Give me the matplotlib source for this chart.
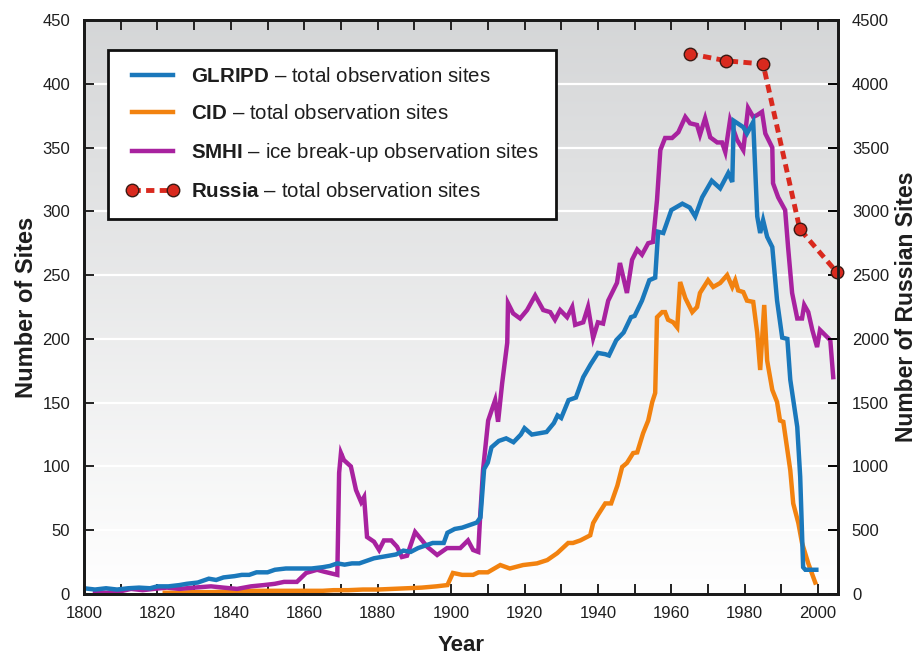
import numpy as np
import matplotlib
matplotlib.use("Agg")
import matplotlib.pyplot as plt

FONT = 'Liberation Sans'
plt.rcParams['font.family'] = [FONT, 'DejaVu Sans']
plt.rcParams['mathtext.fontset'] = 'custom'
plt.rcParams['mathtext.bf'] = FONT + ':bold'
plt.rcParams['mathtext.rm'] = FONT

# ---------------- data ----------------
glripd_years = [1800, 1803, 1806, 1809, 1812, 1815, 1818, 1820, 1823, 1826, 1828, 1831, 1834, 1836, 1838,
                1841, 1843, 1845, 1847, 1850, 1852, 1855, 1859, 1862, 1865, 1867, 1869, 1871, 1873, 1875,
                1877, 1879, 1881, 1883, 1885, 1887, 1889, 1891, 1893, 1895, 1897, 1898, 1899, 1901, 1903,
                1905, 1907, 1908, 1909, 1910, 1911, 1913, 1915, 1917, 1919, 1920, 1922, 1924, 1926, 1928,
                1929, 1930, 1932, 1934, 1936, 1938, 1940, 1942, 1943, 1945, 1947, 1949, 1950, 1952, 1954,
                1955.6, 1956.4, 1957.8, 1960, 1963, 1965, 1966.5, 1968.4, 1971, 1973.3, 1975.5, 1976.6,
                1977, 1979.6, 1980.6, 1982.3, 1983.4, 1984.2, 1985, 1986.1, 1987.5, 1988.8, 1990.2,
                1991.6, 1992.4, 1994.3, 1995.1, 1995.9, 1996.5, 1999.5]
glripd_sites = [4.5, 3.5, 4.5, 3.5, 4.5, 5, 4.5, 6, 6, 7, 8, 9, 12, 11, 13,
                14, 15, 15, 17, 17, 19, 20, 20, 20, 21, 22, 24, 23, 24, 24,
                26, 28, 29, 30, 31, 34, 33, 36, 38, 40, 40, 40, 48, 51, 52,
                54, 56, 60, 98, 103, 115, 120, 122, 119, 125, 130, 125, 126, 127, 134,
                140, 138, 152, 154, 170, 180, 189, 188, 187, 199, 205, 217, 218, 230, 246,
                248, 284, 283, 301, 306, 303, 296, 311, 324, 318, 330, 323,
                371, 366, 361, 370, 296, 283, 293, 280, 272, 230, 201,
                200, 168, 131, 92, 21, 19, 19]

cid_years = [1822, 1826, 1830, 1835, 1840, 1845, 1850, 1855, 1860, 1865, 1868, 1872, 1876, 1880, 1884,
             1888, 1892, 1896, 1899, 1900.5, 1903, 1906, 1907.5, 1910, 1913.4, 1916, 1919.6, 1923.4,
             1926.2, 1928.9, 1931.9, 1933.2, 1935.2, 1937.9, 1938.7, 1940, 1942, 1943.6, 1945.3,
             1946.6, 1947.9, 1949.6, 1950.7, 1952.3, 1953.7, 1954.8, 1955.6, 1956.1, 1957.5, 1958.3,
             1959.1, 1960.5, 1961.6, 1962.4, 1963.8, 1965.7, 1967, 1967.8, 1970, 1971.4, 1973.3,
             1975.2, 1976.6, 1977.4, 1978.2, 1979.6, 1980.6, 1982.3, 1983.4, 1984.2, 1985.3, 1986.1,
             1987.5, 1988.8, 1989.6, 1990.5, 1991.6, 1992.4, 1993.2, 1994.6, 1995.6, 1997.3, 1999.2]
cid_sites = [1, 1, 1.5, 1.5, 2, 2.5, 2.5, 2.5, 2.5, 2.5, 3, 3, 3.5, 3.5, 4,
             4.5, 5, 6, 7, 16.5, 15, 15, 17, 17, 22.7, 20, 22.7, 24,
             26.6, 32, 40, 40, 42, 46, 55.6, 62, 71, 71, 85,
             99.6, 102.7, 110.5, 111, 126, 136, 150.5, 157.6, 217, 221, 221,
             215, 213, 209, 244.6, 232, 221, 225, 236, 246, 240.7, 243.8,
             250, 240.7, 246, 238, 236.7, 230, 229, 204.6, 175.6, 226.6, 183,
             160, 150.5, 136, 135, 113, 97, 71, 55.6, 40, 24, 9]

smhi_years = [1803, 1806, 1809, 1812.8, 1816, 1819, 1822.6, 1826, 1830, 1834.6, 1838, 1841.7, 1845.5,
              1849, 1852, 1854.5, 1858, 1860.5, 1863.5, 1865.4, 1869, 1869.5, 1870, 1870.8, 1872.7,
              1874.1, 1875.5, 1876.3, 1877.1, 1879, 1880.4, 1881.7, 1883.7, 1885.3, 1886.6, 1888,
              1890.2, 1892.1, 1893.5, 1896.2, 1898.9, 1902.5, 1904.6, 1906, 1907.4, 1907.9, 1908.7,
              1910.1, 1912, 1912.8, 1913.9, 1915.3, 1915.5, 1916.9, 1918.8, 1920.7, 1922.9, 1925.1,
              1927, 1928.3, 1929.7, 1931.6, 1933, 1933.8, 1936, 1937.3, 1938.7, 1940, 1941.4, 1942.8,
              1945.2, 1946, 1947.9, 1949.3, 1950.7, 1952, 1953.7, 1955, 1956.1, 1957, 1958.3, 1960.2,
              1961.9, 1963.8, 1965.1, 1967, 1967.8, 1969.2, 1970.6, 1972.5, 1973.8, 1974.7, 1976,
              1977.9, 1979.6, 1980.9, 1982.3, 1983.4, 1984.7, 1985.6, 1987.5, 1987.7, 1989.1, 1991,
              1991.8, 1992.9, 1994.3, 1995.6, 1996.2, 1997.3, 1998.4, 1999.7, 2000.5, 2002.7, 2003.3,
              2004.1]
smhi_sites = [1.5, 1, 1.5, 4, 3, 4, 5, 4, 5, 6, 5, 4, 6,
              7, 8, 9.5, 9.5, 16.5, 19, 17.5, 15, 95, 110.5, 105, 100,
              81.5, 72, 76, 44.7, 41, 34.5, 42, 42, 37, 29, 30,
              48.6, 42, 37, 30.6, 36, 36, 42, 34.5, 33, 60, 97,
              136, 152, 135, 165, 197, 228, 220, 216, 222.6, 234, 222.6,
              221, 215, 222.6, 217, 225, 211, 213, 225, 200.7, 213, 212, 230,
              244, 259.5, 236, 262, 270, 266, 275, 276, 309, 348, 357.5, 357.5,
              362, 374, 369, 367.7, 360, 373, 358, 354, 354, 346.5, 371.6,
              356, 348, 381, 374, 375.5, 378, 361, 350, 322, 311, 301,
              272, 236, 216, 216, 226.6, 221, 207, 193.6, 207, 200.7, 199,
              170]

russia_years = [1965, 1975, 1985, 1995, 2005]
russia_sites = [4235, 4180, 4155, 2860, 2525]

x_ticks = [1800, 1820, 1840, 1860, 1880, 1900, 1920, 1940, 1960, 1980, 2000]
y_ticks = [0, 50, 100, 150, 200, 250, 300, 350, 400, 450]
y2_ticks = [0, 500, 1000, 1500, 2000, 2500, 3000, 3500, 4000, 4500]

C_BLUE = '#1a78bb'
C_ORANGE = '#f2820f'
C_PURPLE = '#a8229f'
C_RED = '#d9291e'
TXT = '#1e1e1e'

# ---------------- figure ----------------
fig = plt.figure(figsize=(9.19, 6.55), dpi=100)
ax = fig.add_axes([84/919, 61/655, 754/919, 574/655])
ax.set_xlim(1800, 2005.4)
ax.set_ylim(0, 450)

# gradient background
grad = np.linspace(1, 0, 256).reshape(-1, 1)
top = np.array([0.835, 0.84, 0.845])
bot = np.array([1.0, 1.0, 1.0])
img = (bot + (top - bot) * grad[..., None]).reshape(256, 1, 3)
ax.imshow(img, extent=[0, 1, 0, 1], transform=ax.transAxes, aspect='auto', zorder=0,
          interpolation='bilinear')

for yv in y_ticks[1:-1]:
    ax.axhline(yv, color='white', lw=1.6, zorder=1)

lw = 3.2
ax.plot(cid_years, cid_sites, color=C_ORANGE, lw=lw, zorder=3, solid_joinstyle='miter',
        label=r'$\mathbf{CID}$ – total observation sites')
ax.plot(smhi_years, smhi_sites, color=C_PURPLE, lw=lw, zorder=4, solid_joinstyle='miter',
        label=r'$\mathbf{SMHI}$ – ice break-up observation sites')
ax.plot(glripd_years, glripd_sites, color=C_BLUE, lw=lw, zorder=5, solid_joinstyle='miter',
        label=r'$\mathbf{GLRIPD}$ – total observation sites')

ax2 = ax.twinx()
ax2.set_ylim(0, 4500)
ax2.plot(russia_years, russia_sites, color=C_RED, lw=3.5, ls=(0, (1.7, 1.1)), marker='o',
         markersize=9, markerfacecolor=C_RED, markeredgecolor='#3a1a14', markeredgewidth=1.0,
         clip_on=False, zorder=6, label=r'$\mathbf{Russia}$ – total observation sites')

# ticks
ax.set_xticks(x_ticks)
ax.set_xticks(np.arange(1810, 2005, 20), minor=True)
ax.set_yticks(y_ticks)
ax2.set_yticks(y2_ticks)
ax.tick_params(axis='both', which='both', direction='in', length=7, width=1.4,
               top=True, labelsize=12, colors='#222222', labelcolor=TXT)
ax.tick_params(axis='x', pad=9)
ax.tick_params(axis='y', pad=10)
ax2.tick_params(axis='y', direction='in', length=7, width=1.4, labelsize=12,
                labelcolor=TXT, pad=10)
for a in (ax, ax2):
    for s in a.spines.values():
        s.set_linewidth(2.0)
        s.set_color('#1a1a1a')
        s.set_zorder(10)

ax.set_xlabel('Year', fontsize=16, fontweight='bold', color=TXT)
ax.set_ylabel('Number of Sites', fontsize=17, fontweight='bold', color=TXT)
ax2.set_ylabel('Number of Russian Sites', fontsize=16.5, fontweight='bold', color=TXT)
ax.xaxis.set_label_coords(0.5, -0.071)
ax.yaxis.set_label_coords(-0.061, 0.5)
ax2.yaxis.set_label_coords(1.075, 0.5)

# legend
h1, l1 = ax.get_legend_handles_labels()
h2, l2 = ax2.get_legend_handles_labels()
order = [2, 0, 1]
handles = [h1[i] for i in order] + h2
labels = [l1[i] for i in order] + l2
leg = ax2.legend(handles, labels, loc='upper left', bbox_to_anchor=(0.032, 0.948),
                 borderaxespad=0, fontsize=14.8, frameon=True, fancybox=False,
                 edgecolor='#111111', framealpha=1, numpoints=2, handlelength=2.6,
                 handletextpad=0.6, labelspacing=0.88, borderpad=0.84)
leg.get_frame().set_linewidth(2.0)
for t in leg.get_texts():
    t.set_color(TXT)

fig.savefig('out.png', dpi=100)
